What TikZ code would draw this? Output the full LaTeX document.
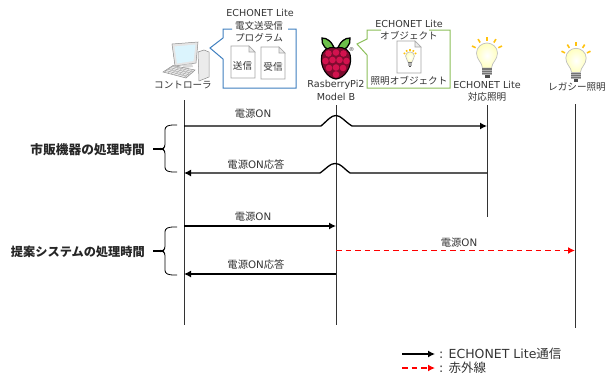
\documentclass[tikz,border=0pt]{standalone}
\usepackage{fontspec}
\setmainfont{DejaVu Sans}
\newfontfamily\cjk{Noto Sans CJK JP}
\newcommand{\J}[1]{{\cjk #1}}
\usetikzlibrary{arrows.meta,calc}
\definecolor{txt}{HTML}{333333}
\definecolor{blueedge}{HTML}{3F7FBF}
\definecolor{greenedge}{HTML}{8CBF5A}
\definecolor{berry}{HTML}{D2124E}
\definecolor{leaf}{HTML}{6CC04A}
\definecolor{ray}{HTML}{FFC20E}
\tikzset{
  every node/.style={text=txt,font=\fontsize{9.6}{11}\selectfont,inner sep=0pt,align=center},
  msglabel/.style={font=\fontsize{10.3}{12}\selectfont},
  life/.style={draw=black!80,line width=1pt},
  msg/.style={draw=black,line width=1.3pt,-{Latex[length=7pt,width=7pt]}},
  irmsg/.style={draw=red,line width=1.4pt,dash pattern=on 5.5pt off 4pt,-{Latex[length=7pt,width=7pt,fill=red]}},
  brace/.style={draw=black,line width=0.8pt,rounded corners=2.5pt},
  bracetip/.style={draw=black,line width=1.2pt},
  boldlabel/.style={text=black!85,anchor=east},
  legendtext/.style={font=\fontsize{12.5}{14}\selectfont,anchor=west},
  doc/.pic={
    \draw[draw=black!35,fill=white,line width=0.6pt] (0,0)--(18,0)--(24,6)--(24,32)--(0,32)--cycle;
    \draw[draw=black!35,fill=black!8,line width=0.6pt] (18,0)--(18,6)--(24,6)--cycle;
  },
  bulbshape/.pic={
    \foreach \a in {205,237,270,303,335}
      \draw[draw=ray,line width=1.6pt] (\a:12.5)--(\a:16.5);
    \draw[draw=black!25,line width=0.7pt,inner color=white,outer color=yellow!25]
      (-4.5,15) .. controls (-5,9) and (-10.5,7) .. (-10.5,0)
      .. controls (-10.5,-6) and (-5,-10) .. (0,-10)
      .. controls (5,-10) and (10.5,-6) .. (10.5,0)
      .. controls (10.5,7) and (5,9) .. (4.5,15) -- cycle;
    \fill[black!55] (-5,15) rectangle (5,22);
    \fill[black!70] (-2.5,22) rectangle (2.5,25);
    \foreach \q in {17,19,21} \draw[black!30,line width=0.4pt] (-5,\q)--(5,\q);
  },
}
\begin{document}
\begin{tikzpicture}[x=1pt,y=-1pt]
\useasboundingbox (0,0) rectangle (614,378);
% computer
\draw[black!45,fill=black!8,line width=0.5pt] (198,52)--(204,50)--(209,52)--(209,77)--(199,81)--cycle;
\draw[black!45,fill=black!10,line width=0.5pt] (172,44)--(198,42)--(196,63)--(175,66)--cycle;
\fill[cyan!14] (174.5,46.5)--(195.5,44.5)--(193.5,61)--(177,63.5)--cycle;
\fill[black!15] (182,65)--(192,63.5)--(193,67)--(184,68)--cycle;
\draw[black!45,fill=black!8,line width=0.5pt] (163,72)--(173,65.5)--(195,70)--(186,78)--cycle;
\foreach \i in {0,1,2,3}
  \draw[black!35,line width=0.4pt] ($(165.5,70.5)+(2.4*\i,-1.4*\i)$)--($(188,76.5)+(2*\i,-1.5*\i)$);
\foreach \i in {0,...,6}
  \draw[black!35,line width=0.4pt] ($(173,66)+(3.2*\i,0.7*\i)$)--($(164.5,72)+(3.3*\i,0.9*\i)$);
\node (ctrl) at (183,85) {\J{コントローラ}};
% blue callout
\path[draw=blueedge,line width=1pt,fill=white,line join=miter]
  (232,29)--(223,29)--(223,38)--(210,48)--(223,59)--(223,88)--(296,88)--(296,29)--(288,29);
\node (blueT) at (260,13) {ECHONET Lite};
\node (blueU) at (259,26) {\J{電文送受信}};
\node (blueV) at (259,37.5) {\J{プログラム}};
\pic at (231,46) {doc};
\pic at (261,47) {doc};
\node (send) at (242.5,66) {\J{送信}};
\node (recv) at (273,67) {\J{受信}};
% raspberry
\begin{scope}[shift={(336,0)}]
  \fill[leaf,draw=black,line width=1.3pt] (-1,50.5) .. controls (-4,41) and (-9,38) .. (-14,38) .. controls (-15,45) and (-10,51) .. (-1,50.5) -- cycle;
  \fill[leaf,draw=black,line width=1.3pt] (1,50.5) .. controls (4,41) and (9,38) .. (14,38) .. controls (15,45) and (10,51) .. (1,50.5) -- cycle;
  \fill[berry!60!black,draw=black,line width=1.1pt] (0,48) .. controls (8,46) and (14.5,50) .. (14.5,58) .. controls (15.5,67) and (9,78) .. (0,79) .. controls (-9,78) and (-15.5,67) .. (-14.5,58) .. controls (-14.5,50) and (-8,46) .. (0,48) -- cycle;
  \foreach \p/\q in {-7.5/53.5,0/52.5,7.5/53.5,-10.5/61,-3.5/60,3.5/60,10.5/61,-7/68,0/67.5,7/68,0/74.5}
    \fill[berry] (\p,\q) circle (3.3);
\end{scope}
\node[font=\fontsize{5.5}{6}\selectfont] (reg) at (351.5,50) {®};
\node (pi) at (336,85) {RasberryPi2};
\node (pi2) at (336,97) {Model B};
% green callout
\path[draw=greenedge,line width=1pt,fill=white]
  (381,30)--(367,30)--(367,39)--(357,44)--(367,55)--(367,88)--(450,88)--(450,30)--(429,30);
\node (greenT) at (409,24) {ECHONET Lite};
\node (greenU) at (409,36) {\J{オブジェクト}};
\pic at (397,41) {doc};
\pic[scale=0.42] at (410,56) {bulbshape};
\node (objname) at (409,81) {\J{照明オブジェクト}};
% bulbs
\pic at (487,53) {bulbshape};
\pic[scale=0.97] at (576,58) {bulbshape};
\node (el) at (487,85) {ECHONET Lite};
\node (el2) at (487,97) {\J{対応照明}};
\node (leg) at (577,87) {\J{レガシー照明}};
% lifelines
\coordinate (c1) at (184,100); \coordinate (c2) at (184,325);
\coordinate (p1) at (336,105); \coordinate (p2) at (336,325);
\coordinate (e1) at (487,105); \coordinate (e2) at (487,217);
\coordinate (l1) at (575,104); \coordinate (l2) at (575,328);
\draw[life] (c1)--(c2);
\draw[life] (p1)--(p2);
\draw[life] (e1)--(e2);
\draw[life] (l1)--(l2);
% messages
\coordinate (a1s) at (c1|-0,126); \coordinate (a1e) at (e1|-0,126);
\draw[msg] (a1s) -- (321,126) .. controls (328,120) and (331,115.5) .. (336,115.5)
  .. controls (341,115.5) and (344,121) .. (352,126) -- (a1e);
\node[msglabel] (m1) at (253,114) {\J{電源}ON};
\coordinate (a2s) at (e1|-0,173); \coordinate (a2e) at (c1|-0,173);
\draw[msg] (a2s) -- (350,173) .. controls (343,168) and (341,163.5) .. (335,163.5)
  .. controls (330,163.5) and (327,168) .. (320,173) -- (a2e);
\node[msglabel] (m2) at (256,165) {\J{電源}ON\J{応答}};
\coordinate (a3s) at (c1|-0,226); \coordinate (a3e) at (p1|-0,226);
\draw[msg] (a3s)--(a3e);
\node[msglabel] (m3) at (253,217) {\J{電源}ON};
\coordinate (a4s) at (p1|-0,274); \coordinate (a4e) at (c1|-0,274);
\draw[msg] (a4s)--(a4e);
\node[msglabel] (m4) at (256,265) {\J{電源}ON\J{応答}};
\coordinate (a5s) at (p1|-0,250.5); \coordinate (a5e) at (l1|-0,250.5);
\draw[irmsg] (a5s)--(a5e);
\node[msglabel] (m5) at (459,243) {\J{電源}ON};
% braces
\coordinate (b1t) at (153,149); \coordinate (b2t) at (153,251);
\draw[brace] (177,125)--(170,125)--(165,127)--(165,147)--(162,149)--(165,151)--(165,170)--(170,172)--(177,172);
\draw[bracetip] (b1t)--(163,149);
\draw[brace] (177,227)--(170,227)--(165,229)--(165,249)--(162,251)--(165,253)--(165,273)--(170,275)--(177,275);
\draw[bracetip] (b2t)--(163,251);
\node[boldlabel,font=\fontsize{12.7}{14}\selectfont\bfseries] (t1) at (145,150) {\J{市販機器の処理時間}};
\node[boldlabel,font=\fontsize{12.2}{14}\selectfont\bfseries] (t2) at (145,252) {\J{提案システムの処理時間}};
% legend
\coordinate (k1a) at (402,354); \coordinate (k1b) at (435,354);
\coordinate (k2a) at (402,368); \coordinate (k2b) at (435,368);
\draw[msg] (k1a)--(k1b);
\draw[irmsg] (k2a)--(k2b);
\node[legendtext] (k1) at (439,353.5) {: ECHONET Lite\J{通信}};
\node[legendtext] (k2) at (439,368) {: \J{赤外線}};
\end{tikzpicture}
\end{document}
